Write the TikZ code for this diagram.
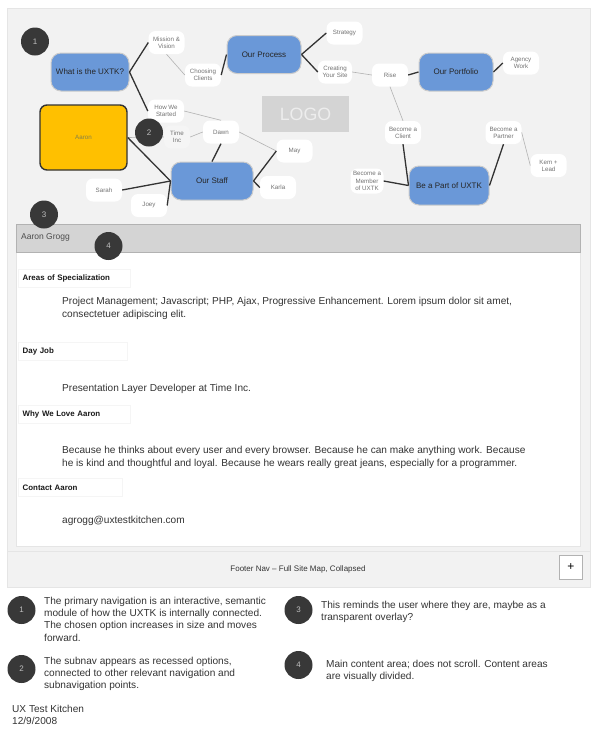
\documentclass[tikz,border=0pt]{standalone}
\usepackage{fontspec}
\setmainfont{Liberation Sans}
\usepackage{tikz}
\usetikzlibrary{arrows}

\begin{document}
\begin{tikzpicture}[
  x=1pt,y=-1pt,
  every node/.style={align=center},
  panel/.style={draw=black!10,fill=black!5},
  mainnav/.style={draw=black!20,line width=1pt,rounded corners=10pt,fill=navblue,minimum width=78pt,minimum height=38pt,inner sep=0pt,font=\fontsize{8}{10}\selectfont,text=black!85},
  subnav/.style={fill=white,rounded corners=7pt,minimum width=36pt,minimum height=23pt,inner sep=0pt,font=\fontsize{6.2}{7.2}\selectfont,text=black!55},
  badge/.style={circle,fill=black!78,minimum size=28pt,inner sep=0pt,font=\fontsize{8}{10}\selectfont,text=black!25},
  tag/.style={anchor=west,draw=black!4,fill=white,minimum height=18pt,inner xsep=4.5pt,inner ysep=0pt,text width=103pt,align=left,font=\bfseries\fontsize{7.9}{9}\selectfont,text=black!90},
  body/.style={anchor=north west,inner sep=0pt,align=left,font=\fontsize{10.1}{12.6}\selectfont,text=black!80},
  note/.style={anchor=north west,inner sep=0pt,align=left,font=\fontsize{10.1}{12.2}\selectfont,text=black!80},
  strong/.style={black!80,line width=1.3pt},
  weak/.style={black!30,line width=.6pt}]
  \definecolor{navblue}{HTML}{6A98D8}
  \definecolor{aaronyellow}{HTML}{FFC000}

  \useasboundingbox (0,0) rectangle (600,740);

  % Panels of the page
  \node[panel,minimum width=583pt,minimum height=579pt,inner sep=0pt] (page) at (298.5,297.5) {};
  \node[draw=black!10,fill=white,minimum width=564pt,minimum height=294pt,inner sep=0pt] (content) at (298,399) {};
  \node[draw=black!30,fill=black!17,minimum width=564pt,minimum height=28pt,inner sep=0pt] (header) at (298,238) {};
  \node[panel,minimum width=583pt,minimum height=36pt,inner sep=0pt] (footer) at (298.5,569) {};
  \node[draw=black!30,fill=white,minimum width=23pt,minimum height=24pt,inner sep=0pt,font=\fontsize{12}{12}\selectfont] (plus) at (571,567) {+};

  % Position the nodes of the map
  \node[fill=black!17,minimum width=87pt,minimum height=36pt,inner sep=0pt,text=black!7,font=\fontsize{17.8}{18}\selectfont] (logo) at (305.5,114) {LOGO};
  \node[mainnav] (what) at (90,72) {What is the UXTK?};
  \node[mainnav,minimum width=74pt] (process) at (264,54.5) {Our Process};
  \node[mainnav,minimum width=74pt] (portfolio) at (456,72) {Our Portfolio};
  \node[mainnav,minimum width=82pt] (staff) at (212,181) {Our Staff};
  \node[mainnav,minimum width=80pt,minimum height=39pt] (partof) at (449,185.5) {Be a Part of UXTK};
  \node[draw=black!80,line width=1.4pt,rounded corners=7pt,fill=aaronyellow,minimum width=87pt,minimum height=65pt,inner sep=0pt,text=yellow!45!black,font=\fontsize{6.2}{7}\selectfont] (aaron) at (83.5,137.5) {Aaron};

  \node[subnav] (mission) at (166.5,42.5) {Mission \&\\Vision};
  \node[subnav] (choosing) at (203,75) {Choosing\\Clients};
  \node[subnav] (strategy) at (344.5,33) {Strategy};
  \node[subnav,minimum width=34pt] (creating) at (335,72) {Creating\\Your Site};
  \node[subnav] (rise) at (390,75) {Rise};
  \node[subnav] (agency) at (521,63) {Agency\\Work};
  \node[subnav] (started) at (166,111) {How We\\Started};
  \node[subnav,fill=black!4,minimum width=26pt] (time) at (177,137) {Time\\Inc};
  \node[subnav] (dawn) at (221,132) {Dawn};
  \node[subnav] (may) at (294.5,151) {May};
  \node[subnav] (karla) at (278,187.5) {Karla};
  \node[subnav] (sarah) at (104,190) {Sarah};
  \node[subnav] (joey) at (149,205.5) {Joey};
  \node[subnav] (client) at (403,132.5) {Become a\\Client};
  \node[subnav] (partner) at (503.5,132.5) {Become a\\Partner};
  \node[subnav] (kem) at (548.5,165.5) {Kem +\\Lead};
  \node[subnav,minimum width=33pt,minimum height=25pt] (member) at (367,181) {Become a\\Member\\of UXTK};

  % Draw the connectors between the nodes
  \draw[strong] (what.east) -- (mission.west);
  \draw[strong] (what.east) -- (started.west);
  \draw[weak] (mission.south) -- (choosing.west);
  \draw[strong] (choosing.east) -- (process.west);
  \draw[strong] (process.east) -- (strategy.west);
  \draw[strong] (process.east) -- (creating.west);
  \draw[weak] (creating.east) -- (rise.west);
  \draw[strong] (rise.east) -- (portfolio.west);
  \draw[strong] (portfolio.east) -- (agency.west);
  \draw[weak] (rise.south) -- (client.north);
  \draw[strong] (client.south) -- (partof.west);
  \draw[strong] (member.east) -- (partof.west);
  \draw[strong] (partner.south) -- (partof.east);
  \draw[weak] (partner.east) -- (kem.west);
  \draw[weak] (started.east) -- (dawn.north);
  \draw[weak] (time.east) -- (dawn.west);
  \draw[weak] (dawn.east) -- (may.west);
  \draw[weak] (aaron.east) -- (time.west);
  \draw[strong] (dawn.south) -- (staff.north);
  \draw[strong] (may.west) -- (staff.east);
  \draw[strong] (karla.west) -- (staff.east);
  \draw[strong] (aaron.east) -- (staff.west);
  \draw[strong] (sarah.east) -- (staff.west);
  \draw[strong] (joey.east) -- (staff.west);

  \node[badge] (one) at (35,41.5) {1};
  \node[badge] (two) at (149,132.5) {2};
  \node[badge] (three) at (44,214.5) {3};
  \node[badge] (four) at (108.5,246) {4};

  % Main content
  \node[anchor=west,inner sep=0pt,font=\fontsize{8.5}{10}\selectfont,text=black!70] (name) at (21,237.5) {Aaron Grogg};
  \node[tag] (areas) at (18,278) {Areas of Specialization};
  \node[tag,text width=100pt] (dayjob) at (18,351) {Day Job};
  \node[tag] (love) at (18,414.5) {Why We Love Aaron};
  \node[tag,text width=95pt] (contact) at (18,487.5) {Contact Aaron};
  \node[body] (areastext) at (62,297) {Project Management; Javascript; PHP, Ajax, Progressive Enhancement. Lorem ipsum dolor sit amet,\\consectetuer adipiscing elit.};
  \node[body] (jobtext) at (62,383.5) {Presentation Layer Developer at Time Inc.};
  \node[body] (lovetext) at (62,446) {Because he thinks about every user and every browser. Because he can make anything work. Because\\he is kind and thoughtful and loyal. Because he wears really great jeans, especially for a programmer.};
  \node[body] (mail) at (62,516) {agrogg@uxtestkitchen.com};
  \node[font=\fontsize{8}{9}\selectfont,text=black!80] (footertext) at (298,569) {Footer Nav – Full Site Map, Collapsed};

  % Notes below the page
  \node[badge] (noteone) at (21.5,610) {1};
  \node[badge] (notetwo) at (21.5,669) {2};
  \node[badge] (notethree) at (298.5,610) {3};
  \node[badge] (notefour) at (298.5,665) {4};
  \node[note] (textone) at (44,597) {The primary navigation is an interactive, semantic\\module of how the UXTK is internally connected.\\The chosen option increases in size and moves\\forward.};
  \node[note] (texttwo) at (44,657) {The subnav appears as recessed options,\\connected to other relevant navigation and\\subnavigation points.};
  \node[note] (textthree) at (321,600.5) {This reminds the user where they are, maybe as a\\transparent overlay?};
  \node[note] (textfour) at (326,659.5) {Main content area; does not scroll. Content areas\\are visually divided.};
  \node[note] (stamp) at (12,704.5) {UX Test Kitchen\\12/9/2008};
\end{tikzpicture}
\end{document}
